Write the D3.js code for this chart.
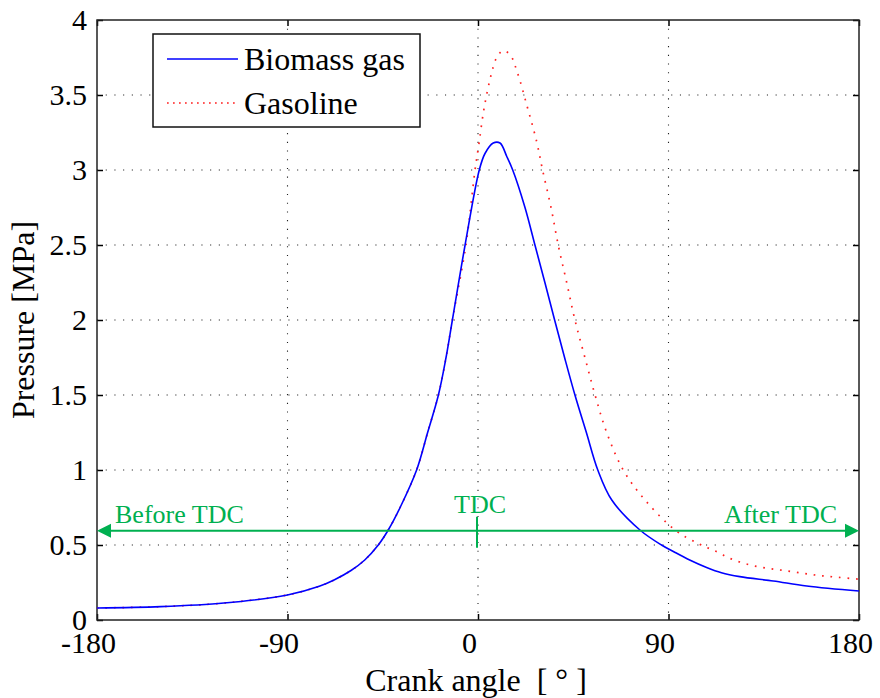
<!DOCTYPE html>
<html>
<head>
<meta charset="utf-8">
<script src="https://d3js.org/d3.v7.min.js"></script>
<style>
  body { margin: 0; background: #fff; }
</style>
</head>
<body>
<svg id="chart" width="880" height="698" font-family="'Liberation Serif', 'Times New Roman', serif"></svg>
<script>
// crank angle (deg) and pressure (MPa)
const bioAngle = [-180, -150, -120, -90, -75, -68, -60, -53.5, -47.1, -42.4, -36.8, -29, -23.8, -18.7, -15.1, -12.1, -6.1, 0.6, 3.3, 7.2, 10.4, 13.6, 16.4, 22.2, 26.9, 31.6, 36.2, 40.9, 45.8, 51.2, 56.6, 63.2, 76.5, 86.7, 92.5, 100, 108, 115, 123.7, 139.5, 155.3, 180];
const bioP     = [0.08, 0.089, 0.113, 0.167, 0.225, 0.267, 0.33, 0.40, 0.5, 0.6, 0.75, 1.0, 1.25, 1.5, 1.75, 2.0, 2.5, 3.0, 3.11, 3.18, 3.18, 3.09, 3.0, 2.75, 2.5, 2.25, 2.0, 1.75, 1.5, 1.25, 1.0, 0.8, 0.6, 0.5, 0.455, 0.40, 0.35, 0.315, 0.289, 0.26, 0.227, 0.193];

const gasAngle = [-180, -150, -120, -90, -75, -68, -60, -53.5, -47.1, -42.4, -36.8, -29, -23.8, -18.7, -15.1, -12.1, -5.7, -1.4, 0.5, 2.5, 4.5, 6.5, 8.5, 11.7, 15.1, 18.6, 23.3, 27.7, 30.5, 34.5, 37.9, 41.9, 45.8, 50.5, 55.3, 60.8, 68.6, 78.9, 93.1, 104, 112, 120, 128.5, 137, 145, 153.7, 161.6, 170, 180];
const gasP     = [0.08, 0.089, 0.113, 0.167, 0.225, 0.267, 0.33, 0.40, 0.5, 0.6, 0.75, 1.0, 1.25, 1.5, 1.75, 2.0, 2.5, 3.0, 3.18, 3.38, 3.53, 3.65, 3.74, 3.795, 3.77, 3.65, 3.42, 3.19, 3.0, 2.75, 2.5, 2.25, 2.0, 1.75, 1.5, 1.25, 1.0, 0.8, 0.6, 0.51, 0.46, 0.405, 0.367, 0.344, 0.329, 0.311, 0.296, 0.285, 0.272];

const xTicks = [-180, -90, 0, 90, 180];
const yTicks = [0, 0.5, 1, 1.5, 2, 2.5, 3, 3.5, 4];
const seriesNames = ["Biomass gas", "Gasoline"];

const pLeft = 97, pRight = 859, pTop = 20, pBottom = 620;
const green = "#00b050";
const serif = "'Liberation Serif', 'Times New Roman', serif";

const svg = d3.select("#chart");

const x = d3.scaleLinear().domain([-180, 180]).range([pLeft, pRight]);
const y = d3.scaleLinear().domain([0, 4]).range([pBottom, pTop]);

// grid (dotted)
const grid = svg.append("g");
grid.selectAll(".gx")
  .data(xTicks.slice(1, -1))
  .enter().append("line")
  .attr("x1", d => x(d)).attr("x2", d => x(d))
  .attr("y1", pTop).attr("y2", pBottom)
  .attr("stroke", "#222").attr("stroke-width", 1.1)
  .attr("stroke-dasharray", "1.1,7.6");
grid.selectAll(".gy")
  .data(yTicks.slice(1, -1))
  .enter().append("line")
  .attr("x1", pLeft).attr("x2", pRight)
  .attr("y1", d => y(d)).attr("y2", d => y(d))
  .attr("stroke", "#222").attr("stroke-width", 1.1)
  .attr("stroke-dasharray", "1.1,7.6");

// axes with inner ticks (x labels sit a little left of their ticks, as in the original)
svg.append("g")
  .attr("transform", "translate(0," + pBottom + ")")
  .call(d3.axisBottom(x).tickValues(xTicks).tickSize(-6).tickPadding(11).tickFormat(d => String(d)))
  .call(g => g.select(".domain").remove())
  .call(g => g.selectAll("text").attr("font-size", 30).attr("fill", "#000").attr("dy", "0.72em").attr("dx", -9));
svg.append("g")
  .attr("transform", "translate(0," + pTop + ")")
  .call(d3.axisTop(x).tickValues(xTicks).tickSize(-6).tickFormat(""))
  .call(g => g.select(".domain").remove());
svg.append("g")
  .attr("transform", "translate(" + pLeft + ",0)")
  .call(d3.axisLeft(y).tickValues(yTicks).tickSize(-6).tickPadding(10).tickFormat(d => String(d)))
  .call(g => g.select(".domain").remove())
  .call(g => g.selectAll("text").attr("font-size", 30).attr("fill", "#000"));
svg.append("g")
  .attr("transform", "translate(" + pRight + ",0)")
  .call(d3.axisRight(y).tickValues(yTicks).tickSize(-6).tickFormat(""))
  .call(g => g.select(".domain").remove());
svg.selectAll("g").filter(function () { return this.hasAttribute("font-family"); })
  .attr("font-family", serif);
svg.selectAll(".tick line").attr("stroke", "#000").attr("stroke-width", 1.5);

// frame
svg.append("rect")
  .attr("x", pLeft).attr("y", pTop)
  .attr("width", pRight - pLeft).attr("height", pBottom - pTop)
  .attr("fill", "none").attr("stroke", "#222").attr("stroke-width", 1.5);

// curves
const line = d3.line()
  .x(d => x(d[0]))
  .y(d => y(d[1]))
  .curve(d3.curveCatmullRom.alpha(0.5));

svg.append("path")
  .datum(gasAngle.map((a, i) => [a, gasP[i]]))
  .attr("d", line)
  .attr("fill", "none").attr("stroke", "#ff2020").attr("stroke-width", 1.7)
  .attr("stroke-dasharray", "1.7,6.8");

svg.append("path")
  .datum(bioAngle.map((a, i) => [a, bioP[i]]))
  .attr("d", line)
  .attr("fill", "none").attr("stroke", "#0000ff").attr("stroke-width", 1.6);

// TDC annotation
const arrowY = y(0.595);
svg.append("line")
  .attr("x1", x(-180) + 10).attr("x2", x(180) - 10)
  .attr("y1", arrowY).attr("y2", arrowY)
  .attr("stroke", green).attr("stroke-width", 2.2);
svg.append("path")
  .attr("d", "M" + x(-180) + "," + arrowY + "l14,-7l0,14z")
  .attr("fill", green);
svg.append("path")
  .attr("d", "M" + x(180) + "," + arrowY + "l-14,-7l0,14z")
  .attr("fill", green);
svg.append("line")
  .attr("x1", x(0) - 1).attr("x2", x(0) - 1)
  .attr("y1", arrowY - 14).attr("y2", arrowY + 17)
  .attr("stroke", green).attr("stroke-width", 2);
svg.append("text")
  .attr("x", x(0) + 2).attr("y", arrowY - 18)
  .attr("text-anchor", "middle").attr("font-size", 26).attr("fill", green)
  .text("TDC");
svg.append("text")
  .attr("x", x(-180) + 18).attr("y", arrowY - 8)
  .attr("font-size", 26).attr("fill", green)
  .text("Before TDC");
svg.append("text")
  .attr("x", x(180) - 22).attr("y", arrowY - 8)
  .attr("text-anchor", "end").attr("font-size", 26).attr("fill", green)
  .text("After TDC");

// legend
const legend = svg.append("g");
legend.append("rect")
  .attr("x", 153).attr("y", 34).attr("width", 267).attr("height", 93)
  .attr("fill", "#fff").attr("stroke", "#111").attr("stroke-width", 1.5);
const legendStyles = [
  { stroke: "#0000ff", dash: null },
  { stroke: "#ff2020", dash: "1.7,4.3" }
];
seriesNames.forEach((name, i) => {
  const ly = 59 + i * 44;
  legend.append("line")
    .attr("x1", 167).attr("x2", 238).attr("y1", ly).attr("y2", ly)
    .attr("stroke", legendStyles[i].stroke).attr("stroke-width", 1.6)
    .attr("stroke-dasharray", legendStyles[i].dash);
  legend.append("text")
    .attr("x", 244).attr("y", ly + 11)
    .attr("font-size", 32).attr("fill", "#000")
    .text(name);
});

// axis titles
svg.append("text")
  .attr("x", 476).attr("y", 691)
  .attr("text-anchor", "middle").attr("font-size", 32).attr("fill", "#000")
  .attr("xml:space", "preserve")
  .text("Crank angle  [ \u00b0 ]");
svg.append("text")
  .attr("transform", "translate(34," + ((pTop + pBottom) / 2) + ") rotate(-90)")
  .attr("text-anchor", "middle").attr("font-size", 32).attr("fill", "#000")
  .text("Pressure [MPa]");
</script>
</body>
</html>
